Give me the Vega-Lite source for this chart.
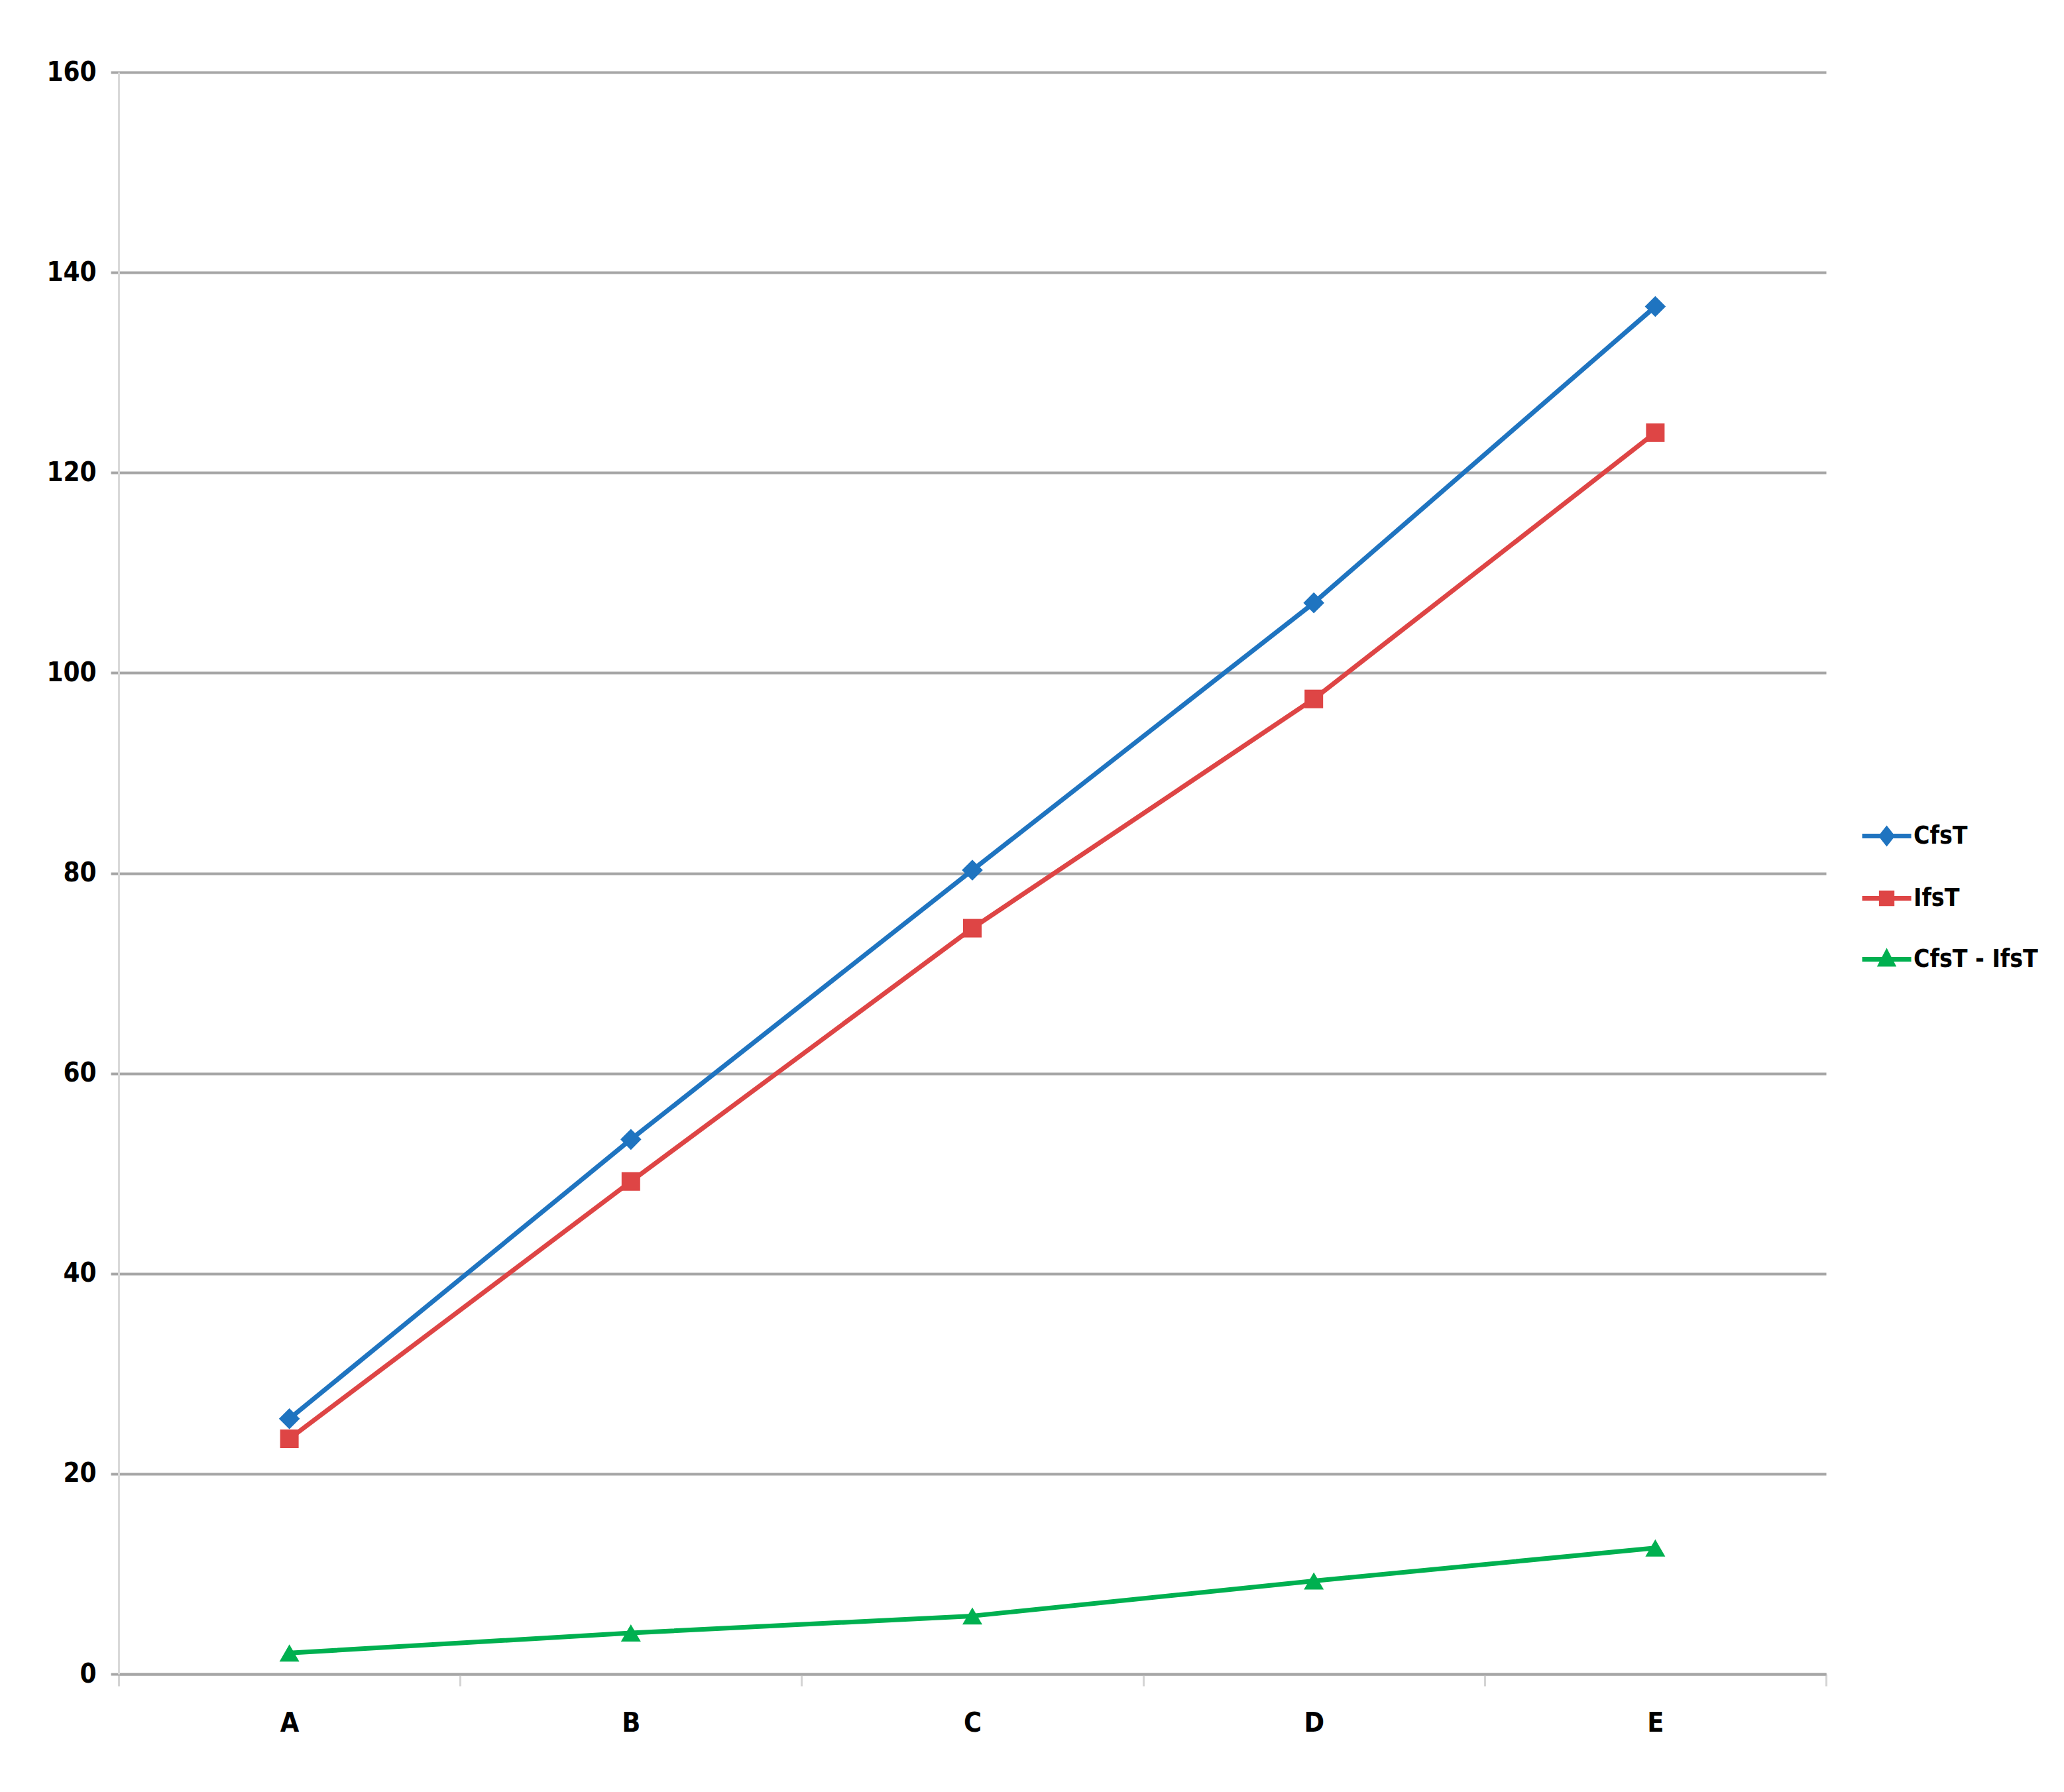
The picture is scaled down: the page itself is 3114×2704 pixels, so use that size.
{
  "$schema": "https://vega.github.io/schema/vega-lite/v6.json",
  "width": 2576,
  "height": 2417,
  "autosize": "none",
  "padding": {"left": 179, "top": 109, "right": 359, "bottom": 178},
  "background": "white",
  "config": {
    "view": {"stroke": null},
    "font": "DejaVu Sans Condensed, Liberation Sans"
  },
  "data": {
    "values": [
      {"cat": "A", "series": "CfsT", "value": 25.5},
      {"cat": "B", "series": "CfsT", "value": 53.4},
      {"cat": "C", "series": "CfsT", "value": 80.3},
      {"cat": "D", "series": "CfsT", "value": 107.0},
      {"cat": "E", "series": "CfsT", "value": 136.6},
      {"cat": "A", "series": "IfsT", "value": 23.5},
      {"cat": "B", "series": "IfsT", "value": 49.2},
      {"cat": "C", "series": "IfsT", "value": 74.5},
      {"cat": "D", "series": "IfsT", "value": 97.4},
      {"cat": "E", "series": "IfsT", "value": 124.0},
      {"cat": "A", "series": "CfsT - IfsT", "value": 2.1},
      {"cat": "B", "series": "CfsT - IfsT", "value": 4.1},
      {"cat": "C", "series": "CfsT - IfsT", "value": 5.8},
      {"cat": "D", "series": "CfsT - IfsT", "value": 9.3},
      {"cat": "E", "series": "CfsT - IfsT", "value": 12.6}
    ]
  },
  "encoding": {
    "x": {
      "field": "cat",
      "type": "nominal",
      "scale": {"type": "band", "paddingInner": 0, "paddingOuter": 0},
      "axis": {
        "title": null,
        "labelAngle": 0,
        "labelFontSize": 41,
        "labelFontWeight": "bold",
        "labelColor": "#000000",
        "labelPadding": 36,
        "domainColor": "#A6A6A6",
        "domainWidth": 4,
        "ticks": true,
        "tickBand": "extent",
        "tickSize": 18,
        "tickColor": "#D4D4D4",
        "tickWidth": 3,
        "grid": false
      }
    },
    "y": {
      "field": "value",
      "type": "quantitative",
      "scale": {"domain": [0, 160], "nice": false},
      "axis": {
        "title": null,
        "values": [0, 20, 40, 60, 80, 100, 120, 140, 160],
        "labelFontSize": 40,
        "labelFontWeight": "bold",
        "labelColor": "#000000",
        "labelPadding": 22,
        "domainColor": "#D9D9D9",
        "domainWidth": 3,
        "grid": true,
        "gridColor": "#A6A6A6",
        "gridWidth": 4,
        "ticks": true,
        "tickSize": 12,
        "tickColor": "#A6A6A6",
        "tickWidth": 4
      }
    }
  },
  "layer": [
    {
      "mark": {"type": "line", "strokeCap": "round", "strokeJoin": "round"},
      "encoding": {
        "color": {
          "field": "series",
          "type": "nominal",
          "scale": {"domain": ["CfsT", "IfsT", "CfsT - IfsT"], "range": ["#1F74C0", "#DE4545", "#00B050"]},
          "legend": {
            "title": null,
            "orient": "none",
            "legendX": 2627,
            "legendY": 1112,
            "symbolSize": 5476,
            "symbolStrokeWidth": 6,
            "rowPadding": 29,
            "labelOffset": 0,
            "labelLimit": 500,
            "labelFontSize": 37,
            "labelFontWeight": "bold",
            "labelColor": "#000000",
            "encode": {
              "symbols": {
                "update": {
                  "shape": {"signal": "datum.value === 'CfsT' ? 'M-1,0H1M0,-0.28L0.22,0L0,0.28L-0.22,0Z' : (datum.value === 'IfsT' ? 'M-1,0H1M-0.22,-0.22H0.22V0.22H-0.22Z' : 'M-1,0H1M-0.24,0.2L0,-0.26L0.24,0.2Z')"},
                  "fill": {"scale": "color", "field": "value"},
                  "stroke": {"scale": "color", "field": "value"},
                  "strokeWidth": {"value": 6},
                  "size": {"value": 5476},
                  "opacity": {"value": 1},
                  "fillOpacity": {"value": 1}
                }
              }
            }
          }
        },
        "strokeWidth": {
          "field": "series",
          "type": "nominal",
          "scale": {"domain": ["CfsT", "IfsT", "CfsT - IfsT"], "range": [7, 7, 10]},
          "legend": null
        }
      }
    },
    {
      "transform": [{"filter": "datum.series === 'CfsT'"}],
      "mark": {"type": "point", "filled": true, "opacity": 1, "shape": "diamond", "size": 1000, "color": "#1F74C0"},
      "encoding": {}
    },
    {
      "transform": [{"filter": "datum.series === 'IfsT'"}],
      "mark": {"type": "point", "filled": true, "opacity": 1, "shape": "square", "size": 784, "color": "#DE4545"},
      "encoding": {}
    },
    {
      "transform": [{"filter": "datum.series === 'CfsT - IfsT'"}],
      "mark": {"type": "point", "filled": true, "opacity": 1, "shape": "triangle-up", "size": 900, "color": "#00B050"},
      "encoding": {}
    }
  ]
}
